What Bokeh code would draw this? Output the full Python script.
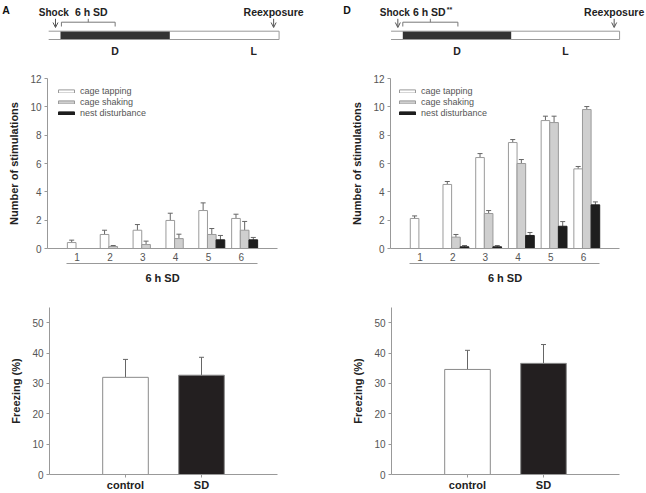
from bokeh.plotting import figure
from bokeh.layouts import column, row
from bokeh.models import (Range1d, LinearAxis, FixedTicker, Legend, LegendItem, Label,
                          Arrow, OpenHead, ColumnDataSource)
from bokeh.core.properties import value
from bokeh.embed import file_html
from bokeh.resources import INLINE

FONT = "Liberation Sans"
AXIS = "#999999"
TICK = "#555555"
TITLE = "#222222"
ERR = "#666666"

# ---------------- data ----------------
# timelines, hours from dark-phase onset
phase_names = ["D", "L"]
phase_edges = [0, 12, 24]
A_start, A_shock, A_sd, A_reexp = -1.3, -0.55, [0.1, 6.0], 23.4
A_phase_label_x = [6, 21.2]
D_start, D_shock, D_sd, D_reexp = -1.3, -0.55, [0.0, 6.1], 23.4
D_phase_label_x = [6, 18]

# number of stimulations per hour of sleep deprivation
stim_hours = ["1", "2", "3", "4", "5", "6"]
stim_types = ["cage tapping", "cage shaking", "nest disturbance"]
B_tap = [0.42, 0.99, 1.29, 1.98, 2.68, 2.12]
B_tap_err = [0.17, 0.30, 0.40, 0.51, 0.54, 0.30]
B_shake = [0, 0.14, 0.28, 0.70, 0.99, 1.29]
B_shake_err = [0, 0.07, 0.24, 0.31, 0.42, 0.62]
B_nest = [0, 0, 0, 0, 0.61, 0.61]
B_nest_err = [0, 0, 0, 0, 0.31, 0.17]

E_tap = [2.12, 4.52, 6.42, 7.48, 9.03, 5.62]
E_tap_err = [0.18, 0.21, 0.28, 0.21, 0.31, 0.17]
E_shake = [0, 0.80, 2.47, 6.00, 8.89, 9.81]
E_shake_err = [0, 0.19, 0.21, 0.28, 0.45, 0.21]
E_nest = [0, 0.12, 0.12, 0.92, 1.57, 3.08]
E_nest_err = [0, 0.09, 0.09, 0.21, 0.33, 0.21]

# freezing (%)
freeze_groups = ["control", "SD"]
C_freeze = [32.0, 32.7]
C_freeze_err = [5.9, 5.9]
F_freeze = [34.6, 36.6]
F_freeze_err = [6.3, 6.2]


def base_fig(w, h, xr, yr, left, right, top, bottom, axes=True):
    kw = {}
    if not axes:
        kw = dict(x_axis_location=None, y_axis_location=None)
    p = figure(width=w, height=h, x_range=xr, y_range=yr, output_backend="svg",
               toolbar_location=None, min_border_left=left, min_border_right=right,
               min_border_top=top, min_border_bottom=bottom, **kw)
    p.outline_line_color = None
    p.background_fill_color = "white"
    p.border_fill_color = "white"
    p.grid.visible = False
    return p


def style_axis(ax):
    ax.axis_line_color = AXIS
    ax.major_tick_line_color = AXIS
    ax.minor_tick_line_color = None
    ax.major_tick_in = 0
    ax.major_tick_out = 3
    ax.minor_tick_in = 0
    ax.minor_tick_out = 0
    ax.major_label_text_font = FONT
    ax.major_label_text_font_size = "10px"
    ax.major_label_text_color = TICK
    ax.axis_label_text_font = FONT
    ax.axis_label_text_font_size = "11px"
    ax.axis_label_text_font_style = "bold"
    ax.axis_label_text_color = TITLE


def txt(p, x, y, s, size="10.5px", align="center", baseline="alphabetic", xo=0,
        style="bold", color=TITLE):
    p.text(x=[x], y=[y], text=[s], text_align=align, text_baseline=baseline, x_offset=xo,
           text_font=value(FONT), text_font_size=size, text_font_style=style, text_color=color)


def timeline(xr, start, shock, sd, reexp, label_x, letter, letter_xo, shock_xo, sd_xo,
             reexp_xo, stars):
    # y is in pixels from the top of this strip
    p = base_fig(323, 66, xr, Range1d(66, 0), 0, 0, 0, 0, axes=False)
    y_top, y_bot = 30.7, 39
    p.quad(left=[start], right=[phase_edges[-1]], top=[y_top], bottom=[y_bot],
           fill_color="white", line_color=None)
    p.quad(left=[phase_edges[0]], right=[phase_edges[1]], top=[y_top], bottom=[y_bot],
           fill_color="#333333", line_color=None)
    p.segment(x0=[start, start, phase_edges[-1]], y0=[y_top, y_bot, y_top],
              x1=[phase_edges[-1], phase_edges[-1], phase_edges[-1]], y1=[y_top, y_bot, y_bot],
              line_color=AXIS, line_width=1)
    mid = (sd[0] + sd[1]) / 2
    p.segment(x0=[sd[0], sd[0], sd[1], mid], y0=[21.7, 21.7, 21.7, 18.3],
              x1=[sd[1], sd[0], sd[1], mid], y1=[21.7, 26, 26, 21.7],
              line_color="#777777", line_width=1)
    for xa in (shock, reexp):
        p.add_layout(Arrow(end=OpenHead(size=5, line_color="#555555", line_width=1),
                           x_start=xa, y_start=18.3, x_end=xa, y_end=27,
                           line_color="#555555", line_width=1))
    txt(p, shock, 11.7, "Shock", size="10px", xo=shock_xo)
    txt(p, mid, 11.7, "6 h SD", xo=sd_xo)
    if stars:
        txt(p, mid, 9.3, "**", size="7px", align="left", xo=sd_xo + 17.5)
    txt(p, reexp, 11.7, "Reexposure", xo=reexp_xo)
    for name, lx in zip(phase_names, label_x):
        txt(p, lx, 50, name)
    txt(p, xr.start, 9.5, letter, size="10.5px", align="left", xo=letter_xo, color="#111111")
    return p


def draw_bars(p, xs, vals, errs, fill, line, width):
    keep = [i for i, v in enumerate(vals) if v > 0]
    src = ColumnDataSource(dict(x=[xs[i] for i in keep],
                                top=[vals[i] for i in keep],
                                hi=[vals[i] + errs[i] for i in keep]))
    p.segment(x0="x", y0="top", x1="x", y1="hi", source=src, line_color=ERR, line_width=1)
    p.scatter(x="x", y="hi", source=src, marker="dash", size=5, line_color=ERR, line_width=1)
    r = p.vbar(x="x", top="top", bottom=0, width=width, source=src,
               fill_color=fill, line_color=line, line_width=1)
    return r


def stim_panel(series, left, right, legend_x, letter, letter_x, letter_yo):
    p = base_fig(323, 229, Range1d(0, 7), Range1d(0, 12), left, right, 12, 47)
    bw = 0.2635
    styles = [("#ffffff", "#9a9a9a"), ("#cfcfcf", "#9a9a9a"), ("#1e1e1e", "#1e1e1e")]
    rs = []
    for k, ((vals, errs), (fc, lc)) in enumerate(zip(series, styles)):
        xs = [i + 1 + (k - 1) * bw for i in range(len(stim_hours))]
        rs.append(draw_bars(p, xs, vals, errs, fc, lc, bw))
    ax = p.xaxis[0]
    style_axis(ax)
    # hour labels sit slightly left of each group's centre in the original
    tick_pos = [round(i + 0.9, 2) for i in range(len(stim_hours))]
    ax.ticker = FixedTicker(ticks=tick_pos)
    ax.major_label_overrides = {t: s for t, s in zip(tick_pos, stim_hours)}
    ax.major_tick_out = 0
    ax.major_label_standoff = 4
    ay = p.yaxis[0]
    style_axis(ay)
    ay.ticker = FixedTicker(ticks=[0, 2, 4, 6, 8, 10, 12])
    ay.major_label_standoff = 3
    ay.axis_label = "Number of stimulations"
    ay.axis_label_standoff = 7
    ax2 = LinearAxis(ticker=FixedTicker(ticks=[]), bounds=(0.57, 6.4), axis_label="6 h SD")
    style_axis(ax2)
    ax2.major_tick_out = 0
    ax2.major_label_standoff = 0
    ax2.axis_label_standoff = 8
    p.add_layout(ax2, "below")
    leg = Legend(items=[LegendItem(label=n, renderers=[r]) for n, r in zip(stim_types, rs)],
                 location=(legend_x, 129.5), orientation="vertical", padding=0, margin=0,
                 spacing=0, glyph_width=20, glyph_height=4, label_height=11, label_standoff=4,
                 label_text_font=FONT, label_text_font_size="9px", label_text_color=TICK,
                 border_line_color=None, background_fill_alpha=0)
    p.add_layout(leg)
    p.add_layout(Label(x=letter_x, y=12, x_units="screen", y_units="data", y_offset=letter_yo,
                       text=letter, text_baseline="alphabetic", text_align="left",
                       text_font=FONT, text_font_size="10.5px", text_font_style="bold",
                       text_color="#111111"))
    return p


def freeze_panel(vals, errs, left, right, letter, letter_x):
    p = base_fig(323, 198, Range1d(0, 3), Range1d(0, 55), left, right, 12, 17)
    xs = [i + 1 for i in range(len(freeze_groups))]
    src = ColumnDataSource(dict(x=xs, top=vals, hi=[v + e for v, e in zip(vals, errs)],
                                fill=["#ffffff", "#231f20"]))
    p.segment(x0="x", y0="top", x1="x", y1="hi", source=src, line_color=ERR, line_width=1)
    p.scatter(x="x", y="hi", source=src, marker="dash", size=5, line_color=ERR, line_width=1)
    p.vbar(x="x", top="top", bottom=0, width=0.6, source=src, fill_color="fill",
           line_color="#8a8a8a", line_width=1)
    ax = p.xaxis[0]
    style_axis(ax)
    ax.ticker = FixedTicker(ticks=xs)
    ax.major_label_overrides = {x: s for x, s in zip(xs, freeze_groups)}
    ax.major_label_text_font_style = "bold"
    ax.major_label_text_font_size = "11px"
    ax.major_label_text_color = TITLE
    ax.major_label_standoff = 1
    ay = p.yaxis[0]
    style_axis(ay)
    ay.ticker = FixedTicker(ticks=[0, 10, 20, 30, 40, 50])
    ay.major_label_standoff = 3
    ay.axis_label = "Freezing (%)"
    ay.axis_label_standoff = 7
    p.add_layout(Label(x=letter_x, y=55, x_units="screen", y_units="data", y_offset=2,
                       text=letter, text_baseline="alphabetic", text_align="left",
                       text_font=FONT, text_font_size="10.5px", text_font_style="bold",
                       text_color="#111111"))
    return p


pA = timeline(Range1d(-6.588, 28.876), A_start, A_shock, A_sd, A_reexp, A_phase_label_x,
              "A", 1.7, -1.7, 3, 0, False)
pD = timeline(Range1d(-8.779, 26.979), D_start, D_shock, D_sd, D_reexp, D_phase_label_x,
              "D", 19.7, -3, -1, 0, True)
pB = stim_panel([(B_tap, B_tap_err), (B_shake, B_shake_err), (B_nest, B_nest_err)],
                47, 46, 9, "B", -46, 2)
pE = stim_panel([(E_tap, E_tap_err), (E_shake, E_shake_err), (E_nest, E_nest_err)],
                67, 27, 7, "E", -48.7, 3)
pC = freeze_panel(C_freeze, C_freeze_err, 49, 46, "C", -48.5)
pF = freeze_panel(F_freeze, F_freeze_err, 68, 27, "F", -48)

layout = column(row(pA, pD), row(pB, pE), row(pC, pF))

open("out.html", "w").write(file_html(layout, INLINE))
